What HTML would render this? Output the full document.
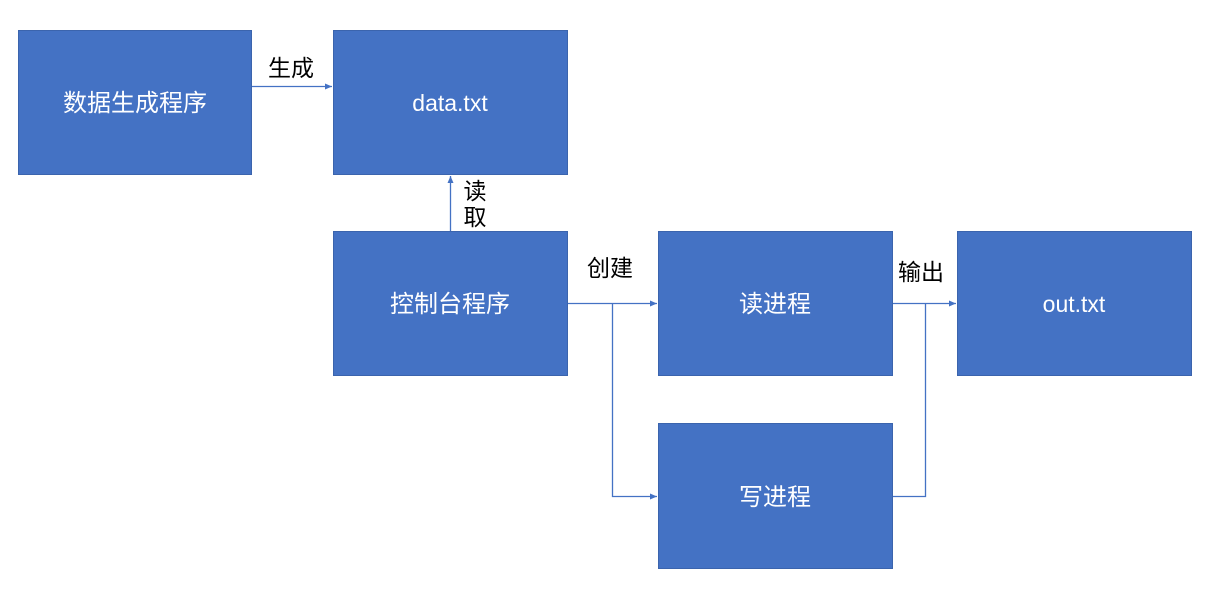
<!DOCTYPE html>
<html><head><meta charset="utf-8"><style>
body{margin:0;background:#fff;width:1216px;height:586px;overflow:hidden}
</style></head><body>
<svg width="1216" height="586" xmlns="http://www.w3.org/2000/svg" style="font-family:'Liberation Sans','Noto Sans CJK SC',sans-serif">
<defs><marker id="a" markerWidth="8" markerHeight="8" refX="7" refY="3" orient="auto" markerUnits="userSpaceOnUse"><path d="M0,0L7,3L0,6z" fill="#4472C4"/></marker></defs>
<g fill="#4472C4" stroke="#3B64AD" stroke-width="1">
<rect x="18.5" y="30.5" width="233" height="144"/>
<rect x="333.5" y="30.5" width="234" height="144"/>
<rect x="333.5" y="231.5" width="234" height="144"/>
<rect x="658.5" y="231.5" width="234" height="144"/>
<rect x="957.5" y="231.5" width="234" height="144"/>
<rect x="658.5" y="423.5" width="234" height="145"/>
</g>
<g stroke="#4472C4" stroke-width="1.3" fill="none">
<path d="M252,86.5H332" marker-end="url(#a)"/>
<path d="M450.5,231V176" marker-end="url(#a)"/>
<path d="M568,303.5H657" marker-end="url(#a)"/>
<path d="M612.5,303.5V496.5H657" marker-end="url(#a)"/>
<path d="M893,303.5H956" marker-end="url(#a)"/>
<path d="M893,496.5H925.5V303.5"/>
</g>
<g fill="#fff" font-size="24" text-anchor="middle">
<text x="135" y="111">数据生成程序</text>
<text x="450" y="111" font-size="23">data.txt</text>
<text x="450" y="312">控制台程序</text>
<text x="775" y="312">读进程</text>
<text x="1074" y="312" font-size="23">out.txt</text>
<text x="775" y="505">写进程</text>
</g>
<g fill="#000" font-size="23" text-anchor="middle">
<text x="291" y="76">生成</text>
<text x="475" y="199">读</text>
<text x="475" y="225">取</text>
<text x="610" y="276">创建</text>
<text x="921" y="280">输出</text>
</g>
</svg>
</body></html>
